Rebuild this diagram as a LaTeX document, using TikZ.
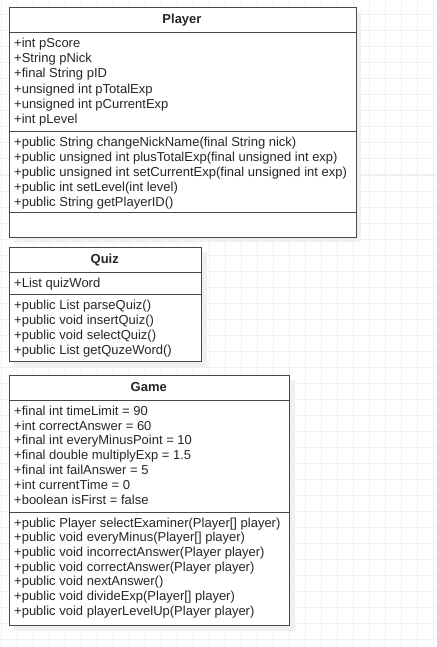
\documentclass[tikz,border=0pt]{standalone}
\usepackage{fontspec}
\setmainfont{Liberation Sans}
\usetikzlibrary{calc}

\tikzset{
  umlbox/.style={draw=black!72, line width=1pt, fill=white, inner sep=0pt, anchor=north west},
  umlrule/.style={draw=black!72, line width=1pt},
  umlshade/.style={fill=black!6},
  umlgrid/.style={draw=black!6, line width=1pt},
  umltitle/.style={anchor=base, inner sep=0pt, text=black!85, font=\bfseries\fontsize{13}{15}\selectfont},
  umlitem/.style={anchor=base west, inner sep=0pt, text=black!85, font=\fontsize{13}{15}\selectfont},
}

\begin{document}
\begin{tikzpicture}[x=1pt, y=-1pt]
			%%%%% PAGE %%%%%
			\useasboundingbox (0,0) rectangle (436,647);
			\fill[white] (0,0) rectangle (436,647);
			\foreach \gx in {1,17,...,433} \draw[umlgrid] (\gx,0) -- (\gx,647);
			\foreach \gy in {15,31,...,639} \draw[umlgrid] (0,\gy) -- (436,\gy);
			
			%%%%% PLAYER %%%%%
			\fill[umlshade] (13.5,12) rectangle (361,242);
			\node[umlbox, minimum width=347pt, minimum height=229.5pt] (player) at (8.5,7) {};
			\draw[umlrule] (8.5,32.5) -- (355.5,32.5);
			\draw[umlrule] (8.5,132) -- (355.5,132);
			\draw[umlrule] (8.5,212.7) -- (355.5,212.7);
			
			\node[umltitle] (player-title) at (182,24) {Player};
			
			\node[umlitem] (player-a1) at (14,47.3) {+int pScore};
			\node[umlitem] (player-a2) at (14,62.6) {+String pNick};
			\node[umlitem] (player-a3) at (14,77.9) {+final String pID};
			\node[umlitem] (player-a4) at (14,93.2) {+unsigned int pTotalExp};
			\node[umlitem] (player-a5) at (14,108.5) {+unsigned int pCurrentExp};
			\node[umlitem] (player-a6) at (14,123.8) {+int pLevel};
			
			\node[umlitem] (player-m1) at (14,147) {+public String changeNickName(final String nick)};
			\node[umlitem] (player-m2) at (14,161.8) {+public unsigned int plusTotalExp(final unsigned int exp)};
			\node[umlitem] (player-m3) at (14,176.6) {+public unsigned int setCurrentExp(final unsigned int exp)};
			\node[umlitem] (player-m4) at (14,191.4) {+public int setLevel(int level)};
			\node[umlitem] (player-m5) at (14,206.2) {+public String getPlayerID()};
			
			%%%%% QUIZ %%%%%
			\fill[umlshade] (13.5,252) rectangle (206.5,366.5);
			\node[umlbox, minimum width=192.5pt, minimum height=114pt] (quiz) at (8.5,247) {};
			\draw[umlrule] (8.5,272.3) -- (201,272.3);
			\draw[umlrule] (8.5,294.3) -- (201,294.3);
			
			\node[umltitle] (quiz-title) at (104.75,263.9) {Quiz};
			
			\node[umlitem] (quiz-a1) at (14,287.3) {+List quizWord};
			
			\node[umlitem] (quiz-m1) at (14,309.6) {+public List parseQuiz()};
			\node[umlitem] (quiz-m2) at (14,324.6) {+public void insertQuiz()};
			\node[umlitem] (quiz-m3) at (14,339.6) {+public void selectQuiz()};
			\node[umlitem] (quiz-m4) at (14,354.6) {+public List getQuzeWord()};
			
			%%%%% GAME %%%%%
			\fill[umlshade] (13.5,379.5) rectangle (294.5,630.5);
			\node[umlbox, minimum width=280.5pt, minimum height=250.5pt] (game) at (8.5,374.5) {};
			\draw[umlrule] (8.5,400) -- (289,400);
			\draw[umlrule] (8.5,512.3) -- (289,512.3);
			
			\node[umltitle] (game-title) at (148.75,391.9) {Game};
			
			\node[umlitem] (game-a1) at (14,415.3) {+final int timeLimit = 90};
			\node[umlitem] (game-a2) at (14,430.1) {+int correctAnswer = 60};
			\node[umlitem] (game-a3) at (14,444.9) {+final int everyMinusPoint = 10};
			\node[umlitem] (game-a4) at (14,459.7) {+final double multiplyExp = 1.5};
			\node[umlitem] (game-a5) at (14,474.5) {+final int failAnswer = 5};
			\node[umlitem] (game-a6) at (14,489.3) {+int currentTime = 0};
			\node[umlitem] (game-a7) at (14,504.1) {+boolean isFirst = false};
			
			\node[umlitem] (game-m1) at (14,527) {+public Player selectExaminer(Player[] player)};
			\node[umlitem] (game-m2) at (14,541.7) {+public void everyMinus(Player[] player)};
			\node[umlitem] (game-m3) at (14,556.4) {+public void incorrectAnswer(Player player)};
			\node[umlitem] (game-m4) at (14,571.1) {+public void correctAnswer(Player player)};
			\node[umlitem] (game-m5) at (14,585.8) {+public void nextAnswer()};
			\node[umlitem] (game-m6) at (14,600.5) {+public void divideExp(Player[] player)};
			\node[umlitem] (game-m7) at (14,615.2) {+public void playerLevelUp(Player player)};
			
			%%%%% END %%%%%
\end{tikzpicture}
\end{document}
